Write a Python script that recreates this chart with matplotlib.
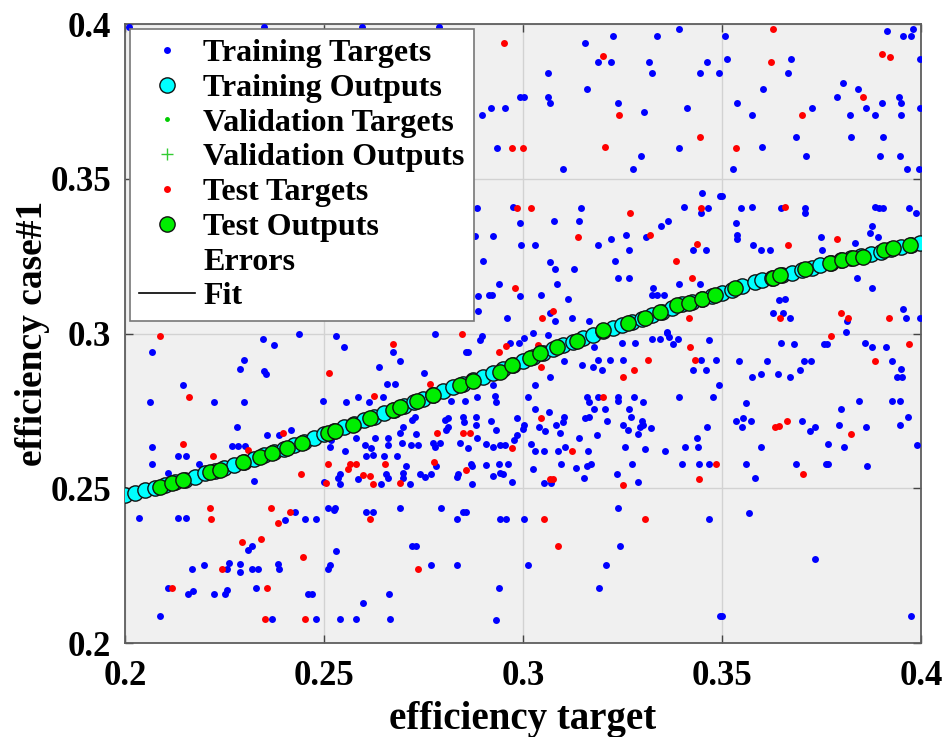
import matplotlib
matplotlib.use('Agg')
import matplotlib.pyplot as plt

# Training targets (blue dots) as (target, output) pairs
train_targets = [
    (0.201, 0.399), (0.235, 0.399), (0.2596, 0.399), (0.279, 0.399),
    # upper band right of the legend
    (0.2992, 0.3763), (0.2919, 0.3728), (0.2954, 0.3728), (0.2896, 0.3706), (0.2935, 0.3598),
    (0.2885, 0.3405), (0.2974, 0.3410), (0.2992, 0.3358), (0.2879, 0.3315), (0.2925, 0.3315),
    (0.2996, 0.3286), (0.2900, 0.3235), (0.2940, 0.3159), (0.2887, 0.3121), (0.2914, 0.3123),
    (0.2923, 0.3123), (0.2992, 0.3121), (0.2887, 0.3073), (0.2959, 0.3051),
    (0.3391, 0.3983), (0.3227, 0.3961), (0.3337, 0.3961), (0.3157, 0.3938), (0.3188, 0.3876),
    (0.3221, 0.3876), (0.3316, 0.3876), (0.3463, 0.3876), (0.3062, 0.3843), (0.3324, 0.3843),
    (0.3446, 0.3843), (0.3492, 0.3843), (0.3160, 0.3789), (0.3002, 0.3763), (0.3062, 0.3763),
    (0.3069, 0.3746), (0.3238, 0.3746), (0.3303, 0.3715), (0.3411, 0.3728), (0.3391, 0.3598),
    (0.3297, 0.3575), (0.3100, 0.3531), (0.3277, 0.3531),
    (0.3450, 0.3453), (0.3496, 0.3444), (0.3146, 0.3405), (0.3404, 0.3408), (0.3464, 0.3405),
    (0.3448, 0.3390), (0.3079, 0.3365), (0.3140, 0.3365), (0.3364, 0.3365), (0.3347, 0.3347),
    (0.3309, 0.3313), (0.3259, 0.3318), (0.3221, 0.3304), (0.3188, 0.3286), (0.3030, 0.3286),
    (0.3427, 0.3270), (0.3460, 0.3270), (0.3266, 0.3270), (0.3232, 0.3235), (0.3069, 0.3230),
    (0.3081, 0.3207), (0.3127, 0.3207), (0.3238, 0.3178), (0.3266, 0.3178), (0.3086, 0.3159),
    (0.3391, 0.3159), (0.3445, 0.3159), (0.3045, 0.3124), (0.3112, 0.3110), (0.3326, 0.3148),
    (0.3324, 0.3124), (0.3338, 0.3124), (0.3355, 0.3124), (0.3068, 0.3065), (0.3081, 0.3040),
    (0.3122, 0.3051), (0.3167, 0.3040), (0.3361, 0.3006),
    (0.3508, 0.3961), (0.3914, 0.3977), (0.3956, 0.3961), (0.3975, 0.3961), (0.3979, 0.3983),
    (0.3513, 0.3886), (0.3673, 0.3886), (0.3667, 0.3843), (0.3998, 0.3886), (0.3602, 0.3789),
    (0.3804, 0.3808), (0.3842, 0.3789), (0.3790, 0.3763), (0.3539, 0.3746), (0.3725, 0.3728),
    (0.3861, 0.3728), (0.3901, 0.3746), (0.3945, 0.3763), (0.3951, 0.3746), (0.3998, 0.3728),
    (0.3575, 0.3706), (0.3821, 0.3706), (0.3885, 0.3706), (0.3949, 0.3706), (0.3685, 0.3636),
    (0.3824, 0.3636), (0.3905, 0.3636), (0.3601, 0.3602), (0.3712, 0.3575), (0.3897, 0.3575),
    (0.3948, 0.3575), (0.3528, 0.3531), (0.3964, 0.3531), (0.3994, 0.3531),
    (0.3501, 0.3444), (0.3547, 0.3405), (0.3575, 0.3410), (0.3648, 0.3405), (0.3709, 0.3405),
    (0.3709, 0.3390), (0.3885, 0.3410), (0.3895, 0.3405), (0.3905, 0.3405), (0.3970, 0.3405),
    (0.3987, 0.3390), (0.3534, 0.3358), (0.3539, 0.3318), (0.3539, 0.3304), (0.3876, 0.3347),
    (0.3871, 0.3326), (0.3893, 0.3313), (0.3749, 0.3313), (0.3579, 0.3286), (0.3597, 0.3270),
    (0.3621, 0.3270), (0.3752, 0.3270), (0.3835, 0.3294), (0.3840, 0.3178), (0.3876, 0.3148),
    (0.3643, 0.3108), (0.3658, 0.3110), (0.3627, 0.3067), (0.3653, 0.3067), (0.3671, 0.3051),
    (0.3813, 0.3040), (0.3956, 0.3078), (0.3962, 0.3051), (0.3998, 0.3051),
    # lower half, left
    (0.2437, 0.2998), (0.2067, 0.2940), (0.2346, 0.2981), (0.2375, 0.2963), (0.2298, 0.2914),
    (0.2289, 0.2884), (0.2349, 0.2880), (0.2354, 0.2869), (0.2145, 0.2835), (0.2063, 0.2779),
    (0.2224, 0.2779), (0.2298, 0.2779), (0.2497, 0.2783), (0.2282, 0.2699), (0.2356, 0.2672),
    (0.2387, 0.2672), (0.2417, 0.2688), (0.2067, 0.2634), (0.2268, 0.2637), (0.2285, 0.2637),
    (0.2302, 0.2637), (0.2132, 0.2604), (0.2153, 0.2604), (0.2067, 0.2580), (0.2186, 0.2580),
    (0.2107, 0.2548), (0.2325, 0.2524), (0.2499, 0.2521),
    (0.2034, 0.2403), (0.2132, 0.2403), (0.2153, 0.2403), (0.2426, 0.2424), (0.2401, 0.2399),
    (0.2453, 0.2400), (0.2479, 0.2400), (0.2308, 0.2300), (0.2320, 0.2313), (0.2169, 0.2239),
    (0.2199, 0.2252), (0.2261, 0.2260), (0.2257, 0.2239), (0.2289, 0.2254), (0.2289, 0.2230),
    (0.2320, 0.2239), (0.2333, 0.2239), (0.2384, 0.2254), (0.2388, 0.2239), (0.2107, 0.2178),
    (0.2159, 0.2157), (0.2170, 0.2168), (0.2224, 0.2157), (0.2251, 0.2157), (0.2256, 0.2171),
    (0.2329, 0.2178), (0.2461, 0.2157), (0.2471, 0.2157), (0.2088, 0.2087), (0.2370, 0.2077),
    (0.2479, 0.2077),
    # lower half, centre-left
    (0.2531, 0.2992), (0.2550, 0.2957), (0.2780, 0.3000), (0.2891, 0.2979), (0.2898, 0.2992),
    (0.2674, 0.2940), (0.2690, 0.2912), (0.2856, 0.2940), (0.2862, 0.2940), (0.2967, 0.2968),
    (0.2990, 0.2970), (0.2638, 0.2893), (0.2751, 0.2871), (0.2659, 0.2837), (0.2678, 0.2837),
    (0.2925, 0.2835), (0.2929, 0.2798), (0.2933, 0.2779), (0.2556, 0.2779), (0.2586, 0.2796),
    (0.2612, 0.2779), (0.2648, 0.2796), (0.2885, 0.2796), (0.2855, 0.2782), (0.2818, 0.2782),
    (0.2721, 0.2720), (0.2728, 0.2731), (0.2699, 0.2699), (0.2692, 0.2677), (0.2732, 0.2674),
    (0.2803, 0.2720), (0.2812, 0.2726), (0.2812, 0.2697), (0.2806, 0.2688), (0.2849, 0.2729),
    (0.2851, 0.2713), (0.2883, 0.2729), (0.2881, 0.2704), (0.2919, 0.2718), (0.2984, 0.2726),
    (0.2933, 0.2688), (0.2885, 0.2664), (0.2984, 0.2672), (0.2977, 0.2656), (0.2518, 0.2656),
    (0.2581, 0.2661), (0.2627, 0.2664), (0.2661, 0.2664), (0.2661, 0.2639), (0.2697, 0.2647),
    (0.2719, 0.2639), (0.2736, 0.2639), (0.2774, 0.2645), (0.2778, 0.2634), (0.2791, 0.2645),
    (0.2843, 0.2645), (0.2861, 0.2629), (0.2906, 0.2643), (0.2925, 0.2634), (0.2942, 0.2639),
    (0.2954, 0.2639), (0.2514, 0.2634), (0.2552, 0.2621), (0.2602, 0.2639), (0.2619, 0.2631),
    (0.2623, 0.2607), (0.2606, 0.2604), (0.2651, 0.2604), (0.2684, 0.2604), (0.2782, 0.2572),
    (0.2705, 0.2572), (0.2870, 0.2580), (0.2872, 0.2572), (0.2908, 0.2575), (0.2939, 0.2580),
    (0.2963, 0.2580), (0.2539, 0.2546), (0.2535, 0.2532), (0.2585, 0.2529), (0.2657, 0.2546),
    (0.2661, 0.2532), (0.2699, 0.2548), (0.2699, 0.2532), (0.2741, 0.2546), (0.2753, 0.2537),
    (0.2770, 0.2546), (0.2837, 0.2546), (0.2833, 0.2537), (0.2925, 0.2539), (0.2942, 0.2548),
    (0.2950, 0.2546), (0.2541, 0.2513), (0.2644, 0.2513), (0.2717, 0.2513), (0.2872, 0.2513),
    (0.2973, 0.2521),
    (0.2510, 0.2437), (0.2524, 0.2429), (0.2527, 0.2437), (0.2605, 0.2424), (0.2623, 0.2424),
    (0.2690, 0.2437), (0.2795, 0.2437), (0.2850, 0.2424), (0.2858, 0.2424), (0.2833, 0.2400),
    (0.2942, 0.2400), (0.2958, 0.2400), (0.2720, 0.2313), (0.2732, 0.2313), (0.2531, 0.2297),
    (0.2510, 0.2239), (0.2516, 0.2252), (0.2768, 0.2252), (0.2833, 0.2252), (0.2939, 0.2178),
    (0.2663, 0.2157), (0.2598, 0.2130), (0.2541, 0.2077), (0.2581, 0.2077), (0.2667, 0.2077),
    (0.2932, 0.2074),
    # lower half, centre-right
    (0.3003, 0.2984), (0.3024, 0.3002), (0.3062, 0.2995), (0.3104, 0.2912), (0.3069, 0.2860),
    (0.3178, 0.2957), (0.3249, 0.2970), (0.3282, 0.2970), (0.3323, 0.2981), (0.3345, 0.2981),
    (0.3362, 0.3002), (0.3366, 0.2989), (0.3376, 0.2966), (0.3389, 0.2981), (0.3467, 0.2979),
    (0.3148, 0.2898), (0.3175, 0.2893), (0.3188, 0.2914), (0.3199, 0.2882), (0.3219, 0.2914),
    (0.3252, 0.2914), (0.3448, 0.2914), (0.3484, 0.2914), (0.3427, 0.2882), (0.3460, 0.2882),
    (0.3031, 0.2835), (0.3492, 0.2835), (0.3013, 0.2796), (0.3160, 0.2796), (0.3165, 0.2779),
    (0.3188, 0.2796), (0.3238, 0.2796), (0.3240, 0.2782), (0.3280, 0.2796), (0.3301, 0.2779),
    (0.3391, 0.2796), (0.3477, 0.2796), (0.3030, 0.2756), (0.3065, 0.2747), (0.3178, 0.2756),
    (0.3205, 0.2756), (0.3266, 0.2756), (0.3104, 0.2729), (0.3101, 0.2715), (0.3157, 0.2726),
    (0.3167, 0.2729), (0.3211, 0.2718), (0.3272, 0.2729), (0.3251, 0.2704), (0.3263, 0.2688),
    (0.3298, 0.2718), (0.3301, 0.2704), (0.3294, 0.2699), (0.3322, 0.2695), (0.3002, 0.2704),
    (0.2999, 0.2693), (0.3039, 0.2699), (0.3055, 0.2686), (0.3083, 0.2704), (0.3093, 0.2677),
    (0.3463, 0.2699), (0.3437, 0.2664), (0.3290, 0.2674), (0.3140, 0.2664), (0.3185, 0.2672),
    (0.3020, 0.2643), (0.3030, 0.2621), (0.3052, 0.2621), (0.3089, 0.2621), (0.3106, 0.2634),
    (0.3164, 0.2621), (0.3256, 0.2634), (0.3307, 0.2627), (0.3358, 0.2621), (0.3406, 0.2634),
    (0.3439, 0.2634), (0.3024, 0.2561), (0.3096, 0.2580), (0.3133, 0.2564), (0.3160, 0.2572),
    (0.3171, 0.2580), (0.3273, 0.2577), (0.3399, 0.2577), (0.3443, 0.2577), (0.3467, 0.2577),
    (0.3236, 0.2546), (0.3154, 0.2534), (0.3054, 0.2518), (0.3070, 0.2518), (0.3290, 0.2519),
    (0.3002, 0.2400), (0.3238, 0.2437), (0.3467, 0.2400), (0.3245, 0.2313), (0.3013, 0.2252),
    (0.3209, 0.2252), (0.3190, 0.2178), (0.3496, 0.2087),
    # lower half, right
    (0.3811, 0.3006), (0.3648, 0.2970), (0.3681, 0.2966), (0.3756, 0.2966), (0.3765, 0.2966),
    (0.3859, 0.2970), (0.3876, 0.2957), (0.3913, 0.2957), (0.3543, 0.2912), (0.3614, 0.2912),
    (0.3705, 0.2912), (0.3723, 0.2912), (0.3926, 0.2912), (0.3949, 0.2884), (0.3939, 0.2860),
    (0.3953, 0.2860), (0.3575, 0.2860), (0.3597, 0.2869), (0.3641, 0.2869), (0.3671, 0.2860),
    (0.3695, 0.2882), (0.3560, 0.2777), (0.3799, 0.2756), (0.3845, 0.2782), (0.3926, 0.2782),
    (0.3948, 0.2782), (0.3534, 0.2718), (0.3553, 0.2726), (0.3551, 0.2699), (0.3574, 0.2718),
    (0.3702, 0.2718), (0.3722, 0.2686), (0.3733, 0.2699), (0.3794, 0.2704), (0.3861, 0.2699),
    (0.3948, 0.2704), (0.3968, 0.2729), (0.3599, 0.2634), (0.3767, 0.2643), (0.3807, 0.2634),
    (0.3989, 0.2639), (0.3560, 0.2580), (0.3685, 0.2580), (0.3761, 0.2577), (0.3767, 0.2580),
    (0.3865, 0.2573), (0.3582, 0.2532), (0.3568, 0.2419), (0.3733, 0.2273), (0.3501, 0.2087),
    (0.3974, 0.2087),
]

# Test targets (red dots)
test_targets = [
    (0.2953, 0.3938), (0.2973, 0.3598), (0.2999, 0.3598), (0.2984, 0.3405), (0.2980, 0.3148),
    (0.3200, 0.3897), (0.3241, 0.3706), (0.3446, 0.3636), (0.3205, 0.3602), (0.3020, 0.3405),
    (0.3269, 0.3390), (0.3448, 0.3405), (0.3137, 0.3313), (0.3320, 0.3318), (0.3437, 0.3288),
    (0.3385, 0.3235), (0.3425, 0.3178), (0.3075, 0.3073), (0.3047, 0.3051), (0.3416, 0.3051),
    (0.3627, 0.3983), (0.3622, 0.3876), (0.3901, 0.3903), (0.3922, 0.3894), (0.3855, 0.3763),
    (0.3702, 0.3706), (0.3534, 0.3598), (0.3658, 0.3410), (0.3790, 0.3304), (0.3667, 0.3286),
    (0.3646, 0.3051), (0.3800, 0.3067), (0.3817, 0.3051), (0.3920, 0.3051),
    (0.2088, 0.2992), (0.2162, 0.2796), (0.2397, 0.2679), (0.2145, 0.2643), (0.2310, 0.2623),
    (0.2220, 0.2604), (0.2442, 0.2546), (0.2214, 0.2437), (0.2216, 0.2400), (0.2366, 0.2437),
    (0.2415, 0.2424), (0.2384, 0.2388), (0.2295, 0.2327), (0.2342, 0.2336), (0.2448, 0.2279),
    (0.2243, 0.2239), (0.2119, 0.2178), (0.2358, 0.2178), (0.2352, 0.2077), (0.2453, 0.2077),
    (0.2848, 0.2997), (0.2674, 0.2966), (0.2939, 0.2940), (0.2958, 0.2959), (0.2513, 0.2871),
    (0.2767, 0.2837), (0.2626, 0.2798), (0.2785, 0.2677), (0.2849, 0.2677), (0.2866, 0.2677),
    (0.2973, 0.2629), (0.2510, 0.2580), (0.2565, 0.2580), (0.2581, 0.2578), (0.2560, 0.2561),
    (0.2653, 0.2580), (0.2777, 0.2586), (0.2858, 0.2559), (0.2598, 0.2542), (0.2615, 0.2539),
    (0.2504, 0.2518), (0.2623, 0.2513), (0.2690, 0.2518), (0.2615, 0.2400), (0.2735, 0.2239),
    (0.3037, 0.2963), (0.3045, 0.2893), (0.3420, 0.2957), (0.3313, 0.2914), (0.3280, 0.2882),
    (0.3252, 0.2860), (0.3432, 0.2914), (0.3200, 0.2796), (0.3045, 0.2726), (0.3123, 0.2621),
    (0.3484, 0.2577), (0.3069, 0.2529), (0.3076, 0.2529), (0.3252, 0.2510), (0.3443, 0.2529),
    (0.3054, 0.2400), (0.3307, 0.2400), (0.3089, 0.2313),
    (0.3773, 0.2992), (0.3970, 0.2966), (0.3885, 0.2912), (0.3633, 0.2699), (0.3643, 0.2702),
    (0.3664, 0.2718), (0.3825, 0.2674), (0.3704, 0.2546),
]

# Training outputs (cyan circles, packed along the fitted curve)
train_outputs = [
    (0.2000, 0.2478), (0.2025, 0.2486), (0.2050, 0.2494), (0.2075, 0.2501), (0.2100, 0.2509),
    (0.2125, 0.2519), (0.2150, 0.2528), (0.2175, 0.2538), (0.2200, 0.2548), (0.2225, 0.2557),
    (0.2250, 0.2567), (0.2275, 0.2576), (0.2300, 0.2586), (0.2325, 0.2596), (0.2350, 0.2606),
    (0.2375, 0.2617), (0.2400, 0.2627), (0.2425, 0.2639), (0.2450, 0.2651), (0.2475, 0.2663),
    (0.2500, 0.2675), (0.2525, 0.2686), (0.2550, 0.2697), (0.2575, 0.2709), (0.2600, 0.2720),
    (0.2625, 0.2731), (0.2650, 0.2743), (0.2675, 0.2754), (0.2700, 0.2766), (0.2725, 0.2778),
    (0.2750, 0.2790), (0.2775, 0.2803), (0.2800, 0.2815), (0.2825, 0.2826), (0.2850, 0.2837),
    (0.2875, 0.2849), (0.2900, 0.2860), (0.2925, 0.2872), (0.2950, 0.2885), (0.2975, 0.2897),
    (0.3000, 0.2910), (0.3025, 0.2923), (0.3050, 0.2936), (0.3075, 0.2949), (0.3100, 0.2962),
    (0.3125, 0.2973), (0.3150, 0.2985), (0.3175, 0.2996), (0.3200, 0.3008), (0.3225, 0.3018),
    (0.3250, 0.3027), (0.3275, 0.3037), (0.3300, 0.3047), (0.3325, 0.3059), (0.3350, 0.3071),
    (0.3375, 0.3082), (0.3400, 0.3094), (0.3425, 0.3103), (0.3450, 0.3113), (0.3475, 0.3122),
    (0.3500, 0.3132), (0.3525, 0.3142), (0.3550, 0.3153), (0.3583, 0.3166), (0.3600, 0.3173),
    (0.3625, 0.3181), (0.3650, 0.3189), (0.3675, 0.3197), (0.3700, 0.3205), (0.3725, 0.3213),
    (0.3747, 0.3221), (0.3775, 0.3229), (0.3800, 0.3237), (0.3825, 0.3244), (0.3850, 0.3251),
    (0.3875, 0.3258), (0.3900, 0.3265), (0.3925, 0.3272), (0.3950, 0.3279), (0.3975, 0.3286),
    (0.3998, 0.3293),
]

# Test outputs (green circles)
test_outputs = [
    (0.2088, 0.2504), (0.2117, 0.2516), (0.2145, 0.2527), (0.2214, 0.2554), (0.2239, 0.2559),
    (0.2297, 0.2584), (0.2339, 0.2602), (0.2369, 0.2615), (0.2406, 0.2629), (0.2444, 0.2645),
    (0.2511, 0.2680), (0.2528, 0.2684), (0.2574, 0.2704), (0.2616, 0.2726), (0.2674, 0.2753),
    (0.2691, 0.2762), (0.2733, 0.2781), (0.2775, 0.2801), (0.2842, 0.2835), (0.2875, 0.2848),
    (0.2941, 0.2877), (0.2972, 0.2898), (0.3018, 0.2920), (0.3043, 0.2936), (0.3085, 0.2955),
    (0.3135, 0.2977), (0.3202, 0.3010), (0.3264, 0.3035), (0.3307, 0.3049), (0.3344, 0.3070),
    (0.3386, 0.3092), (0.3416, 0.3100), (0.3449, 0.3110), (0.3483, 0.3124), (0.3533, 0.3146),
    (0.3629, 0.3178), (0.3646, 0.3189), (0.3709, 0.3207), (0.3772, 0.3227), (0.3801, 0.3237),
    (0.3830, 0.3243), (0.3855, 0.3248), (0.3906, 0.3270), (0.3930, 0.3275), (0.3973, 0.3286),
]

# Fit line knots
fit_x = [0.20, 0.21, 0.22, 0.23, 0.24, 0.25, 0.26, 0.27, 0.28, 0.29, 0.30,
         0.31, 0.32, 0.33, 0.34, 0.35, 0.36, 0.37, 0.38, 0.39, 0.40]
fit_y = [0.2478, 0.2509, 0.2548, 0.2586, 0.2627, 0.2675, 0.2720, 0.2766, 0.2815, 0.2860, 0.2910,
         0.2962, 0.3008, 0.3047, 0.3094, 0.3132, 0.3173, 0.3205, 0.3237, 0.3265, 0.3293]

ticks = [0.2, 0.25, 0.3, 0.35, 0.4]
tick_labels = ['0.2', '0.25', '0.3', '0.35', '0.4']

plt.rcParams['font.family'] = ['Liberation Serif', 'DejaVu Serif']
plt.rcParams['font.weight'] = 'bold'

fig = plt.figure(figsize=(9.47, 7.37), dpi=100)
ax = fig.add_axes([0.132, 0.1275, 0.8405, 0.8399])
ax.set_facecolor('#f0f0f0')

ax.plot(fit_x, fit_y, '-', color='black', lw=1.2, zorder=2, label='Fit')

tx, ty = zip(*train_targets)
ax.plot(tx, ty, 'o', ls='none', color='blue', ms=5, mew=0, zorder=3, label='Training Targets')
rx, ry = zip(*test_targets)
ax.plot(rx, ry, 'o', ls='none', color='red', ms=5, mew=0, zorder=3, label='Test Targets')

ox, oy = zip(*train_outputs)
ax.plot(ox, oy, 'o', ls='none', mfc='cyan', mec='#111111', mew=1.0, ms=11, zorder=4,
        label='Training Outputs')
gx, gy = zip(*test_outputs)
ax.plot(gx, gy, 'o', ls='none', mfc='#00ee00', mec='#111111', mew=1.0, ms=11, zorder=5,
        label='Test Outputs')

# empty series kept for the legend
ax.plot([], [], 'o', ls='none', color='#00cc00', ms=2.5, label='Validation Targets')
ax.plot([], [], '+', ls='none', color='#33cc33', ms=9, mew=1, label='Validation Outputs')
ax.plot([], [], ls='none', label='Errors')

ax.set_xlim(0.2, 0.4)
ax.set_ylim(0.2, 0.4)
ax.set_xticks(ticks)
ax.set_xticklabels(tick_labels)
ax.set_yticks(ticks)
ax.set_yticklabels(tick_labels)
ax.tick_params(direction='in', length=6, width=1, color='#444444', top=True, right=True,
               labelsize=25, pad=10)
ax.tick_params(axis='x', pad=12)
ax.grid(True, color='#d2d2d2', lw=1)
ax.set_axisbelow(True)
for s in ax.spines.values():
    s.set_color('#5e5e5e')
    s.set_linewidth(1.3)

ax.set_xlabel('efficiency target', fontsize=28, fontweight='bold', labelpad=6)
ax.set_ylabel('efficiency case#1', fontsize=27, fontweight='bold', labelpad=0)

handles, labels = ax.get_legend_handles_labels()
order = ['Training Targets', 'Training Outputs', 'Validation Targets', 'Validation Outputs',
         'Test Targets', 'Test Outputs', 'Errors', 'Fit']
hmap = dict(zip(labels, handles))
leg = ax.legend([hmap[k] for k in order], order, loc='upper left',
                bbox_to_anchor=(0.006, 0.992), borderaxespad=0, fontsize=23,
                handlelength=1.75, handletextpad=0.25, labelspacing=0.17,
                borderpad=0.3, fancybox=False, framealpha=1, edgecolor='#777777')
leg.get_frame().set_linewidth(1.2)
leg.set_zorder(10)

fig.savefig('out.png', dpi=100)
